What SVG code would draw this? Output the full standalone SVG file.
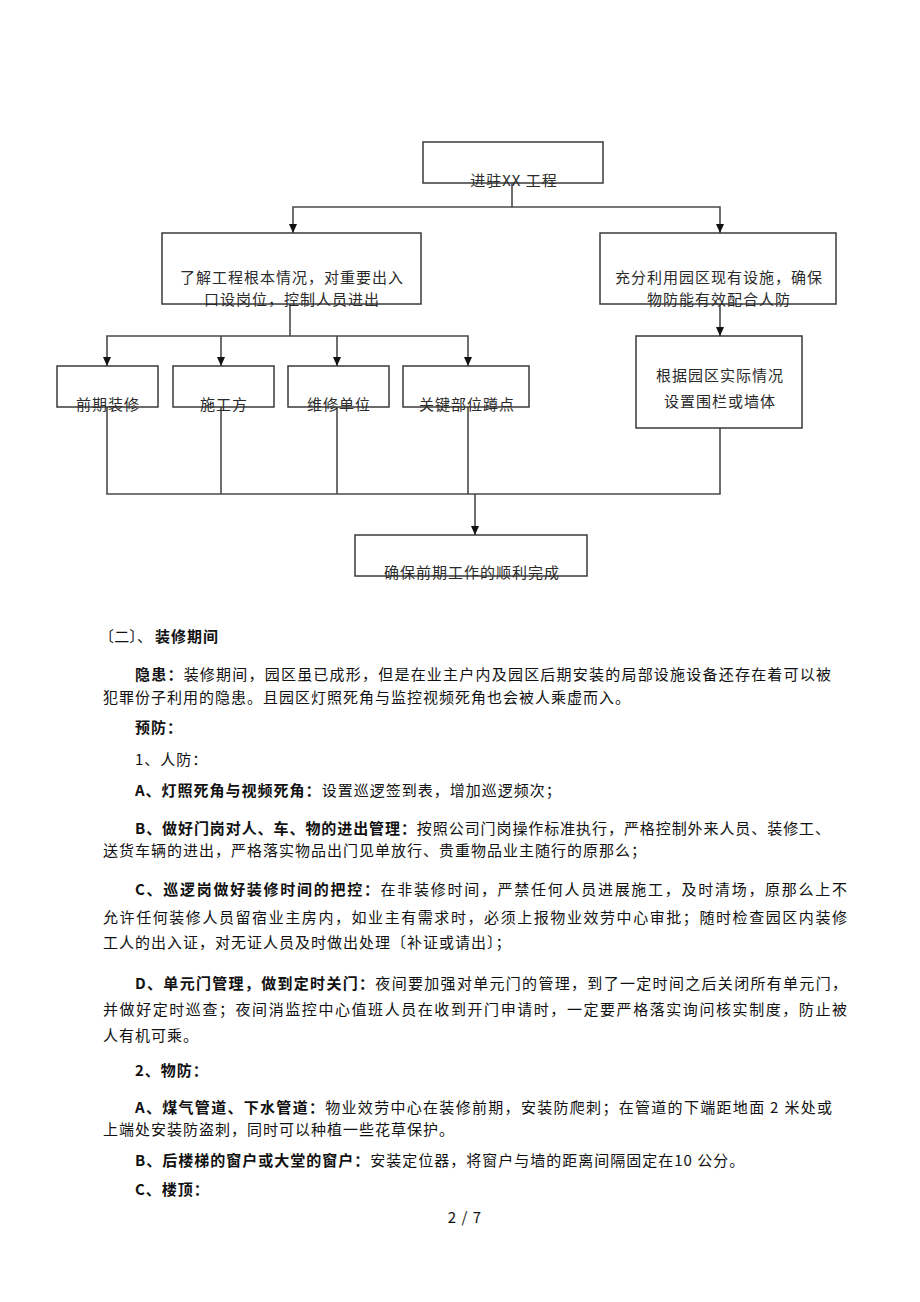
<svg xmlns="http://www.w3.org/2000/svg" width="920" height="1302" viewBox="0 0 920 1302">
<style>
text{font-family:"Noto Sans CJK SC","Noto Sans",sans-serif;font-size:15px;fill:#111;letter-spacing:1px}
.fc{fill:#2a2a2a;text-anchor:middle}
.box{fill:#fff;stroke:#3a3a3a;stroke-width:1.5}
.con{fill:none;stroke:#4a4a4a;stroke-width:1.6}
.b{font-weight:bold}
</style>
<defs>
<marker id="arr" markerWidth="10" markerHeight="10" refX="9" refY="5" orient="auto" markerUnits="userSpaceOnUse">
<path d="M0,1 L9,5 L0,9 Z" fill="#111"/>
</marker>
</defs>
<rect width="920" height="1302" fill="#fff"/>

<g id="connectors">
<path class="con" d="M512,183 V207"/>
<path class="con" d="M512,207 H293 V233" marker-end="url(#arr)"/>
<path class="con" d="M512,207 H720 V233" marker-end="url(#arr)"/>
<path class="con" d="M290,304 V336"/>
<path class="con" d="M290,336 H107 V366" marker-end="url(#arr)"/>
<path class="con" d="M221,336 V366" marker-end="url(#arr)"/>
<path class="con" d="M337,336 V366" marker-end="url(#arr)"/>
<path class="con" d="M290,336 H468 V366" marker-end="url(#arr)"/>
<path class="con" d="M720,304 V336" marker-end="url(#arr)"/>
<path class="con" d="M107,407 V494 H720 V428"/>
<path class="con" d="M221,407 V494"/>
<path class="con" d="M337,407 V494"/>
<path class="con" d="M468,407 V494"/>
<path class="con" d="M475,494 V535" marker-end="url(#arr)"/>
</g>

<g id="n-start">
<rect class="box" x="423" y="142" width="180" height="41"/>
<text class="fc" x="514" y="186">进驻XX 工程</text>
</g>
<g id="n-understand">
<rect class="box" x="162" y="233" width="259" height="71"/>
<text class="fc" x="292" y="283">了解工程根本情况，对重要出入</text>
<text class="fc" x="292" y="305">口设岗位，控制人员进出</text>
</g>
<g id="n-use">
<rect class="box" x="600" y="233" width="236" height="71"/>
<text class="fc" x="719" y="283">充分利用园区现有设施，确保</text>
<text class="fc" x="719" y="305">物防能有效配合人防</text>
</g>
<g id="n-b1">
<rect class="box" x="57" y="366" width="101" height="41"/>
<text class="fc" x="108" y="410">前期装修</text>
</g>
<g id="n-b2">
<rect class="box" x="173" y="366" width="101" height="41"/>
<text class="fc" x="224" y="410">施工方</text>
</g>
<g id="n-b3">
<rect class="box" x="288" y="366" width="101" height="41"/>
<text class="fc" x="339" y="410">维修单位</text>
</g>
<g id="n-b4">
<rect class="box" x="403" y="366" width="126" height="41"/>
<text class="fc" x="467" y="410">关键部位蹲点</text>
</g>
<g id="n-fence">
<rect class="box" x="636" y="336" width="166" height="92"/>
<text class="fc" x="720" y="381">根据园区实际情况</text>
<text class="fc" x="720" y="407">设置围栏或墙体</text>
</g>
<g id="n-end">
<rect class="box" x="355" y="535" width="232" height="41"/>
<text class="fc" x="472" y="578">确保前期工作的顺利完成</text>
</g>

<g id="body">
<text x="99" y="642" textLength="54" lengthAdjust="spacing">〔二〕、</text>
<text x="155" y="642" class="b">装修期间</text>
<text x="135" y="680" textLength="697" lengthAdjust="spacing"><tspan class="b">隐患：</tspan>装修期间，园区虽已成形，但是在业主户内及园区后期安装的局部设施设备还存在着可以被</text>
<text x="103" y="703">犯罪份子利用的隐患。且园区灯照死角与监控视频死角也会被人乘虚而入。</text>
<text x="135" y="733" class="b">预防：</text>
<text x="135" y="765">1、人防：</text>
<text x="135" y="796"><tspan class="b">A、灯照死角与视频死角：</tspan>设置巡逻签到表，增加巡逻频次；</text>
<text x="135" y="834" textLength="696" lengthAdjust="spacing"><tspan class="b">B、做好门岗对人、车、物的进出管理：</tspan>按照公司门岗操作标准执行，严格控制外来人员、装修工、</text>
<text x="103" y="856">送货车辆的进出，严格落实物品出门见单放行、贵重物品业主随行的原那么；</text>
<text x="135" y="895" textLength="713" lengthAdjust="spacing"><tspan class="b">C、巡逻岗做好装修时间的把控：</tspan>在非装修时间，严禁任何人员进展施工，及时清场，原那么上不</text>
<text x="103" y="923" textLength="745" lengthAdjust="spacing">允许任何装修人员留宿业主房内，如业主有需求时，必须上报物业效劳中心审批；随时检查园区内装修</text>
<text x="103" y="948">工人的出入证，对无证人员及时做出处理〔补证或请出〕；</text>
<text x="135" y="989" textLength="713" lengthAdjust="spacing"><tspan class="b">D、单元门管理，做到定时关门：</tspan>夜间要加强对单元门的管理，到了一定时间之后关闭所有单元门，</text>
<text x="103" y="1015" textLength="745" lengthAdjust="spacing">并做好定时巡查；夜间消监控中心值班人员在收到开门申请时，一定要严格落实询问核实制度，防止被</text>
<text x="103" y="1041">人有机可乘。</text>
<text x="135" y="1076" class="b">2、物防：</text>
<text x="135" y="1113" textLength="698" lengthAdjust="spacing"><tspan class="b">A、煤气管道、下水管道：</tspan>物业效劳中心在装修前期，安装防爬刺；在管道的下端距地面 2 米处或</text>
<text x="103" y="1135">上端处安装防盗刺，同时可以种植一些花草保护。</text>
<text x="135" y="1166"><tspan class="b">B、后楼梯的窗户或大堂的窗户：</tspan>安装定位器，将窗户与墙的距离间隔固定在10 公分。</text>
<text x="135" y="1195" class="b">C、楼顶：</text>
<text x="465" y="1223" text-anchor="middle">2 / 7</text>
</g>
</svg>
